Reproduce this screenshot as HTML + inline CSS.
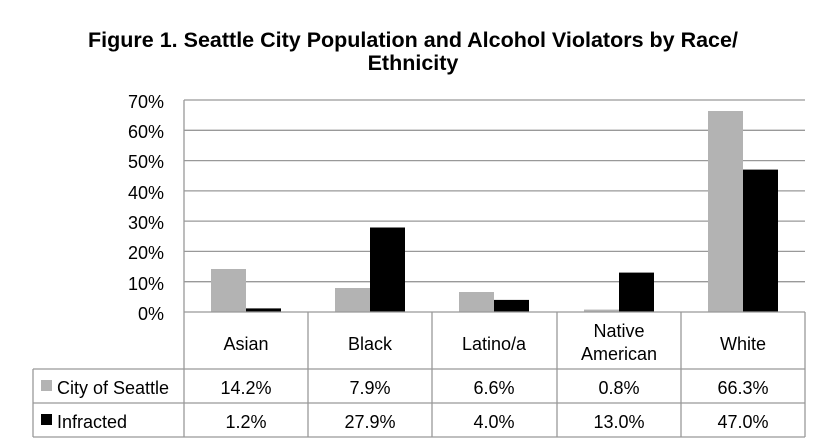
<!DOCTYPE html>
<html><head><meta charset="utf-8"><style>
body{margin:0;background:#fff;}
svg{display:block;font-family:"Liberation Sans",sans-serif;}
</style></head><body>
<svg width="824" height="442" viewBox="0 0 824 442" xmlns="http://www.w3.org/2000/svg">
<text x="413" y="47" text-anchor="middle" font-size="21.5" font-weight="bold">Figure 1. Seattle City Population and Alcohol Violators by Race/</text>
<text x="413" y="70" text-anchor="middle" font-size="21.5" font-weight="bold">Ethnicity</text>
<g stroke="#999" stroke-width="1.3">
<line x1="184" y1="100" x2="805" y2="100"/>
<line x1="184" y1="130.3" x2="805" y2="130.3"/>
<line x1="184" y1="160.6" x2="805" y2="160.6"/>
<line x1="184" y1="190.9" x2="805" y2="190.9"/>
<line x1="184" y1="221.1" x2="805" y2="221.1"/>
<line x1="184" y1="251.4" x2="805" y2="251.4"/>
<line x1="184" y1="281.7" x2="805" y2="281.7"/>
<line x1="184" y1="100" x2="184" y2="312"/>
</g>
<g font-size="18" text-anchor="end">
<text x="164" y="108">70%</text><text x="164" y="138">60%</text><text x="164" y="168">50%</text><text x="164" y="199">40%</text><text x="164" y="229">30%</text><text x="164" y="259">20%</text><text x="164" y="290">10%</text><text x="164" y="320">0%</text>
</g>
<g fill="#b3b3b3">
<rect x="211" y="269" width="35" height="43"/>
<rect x="335" y="288" width="35" height="24"/>
<rect x="459" y="292" width="35" height="20"/>
<rect x="584" y="309.6" width="35" height="2.4"/>
<rect x="708" y="111" width="35" height="201"/>
</g>
<g fill="#000">
<rect x="246" y="308.4" width="35" height="3.6"/>
<rect x="370" y="227.5" width="35" height="84.5"/>
<rect x="494" y="299.9" width="35" height="12.1"/>
<rect x="619" y="272.6" width="35" height="39.4"/>
<rect x="743" y="169.6" width="35" height="142.4"/>
</g>
<g stroke="#999" stroke-width="1.3" fill="none">
<line x1="184" y1="312" x2="805" y2="312"/>
<line x1="33" y1="369" x2="805" y2="369"/>
<line x1="33" y1="403" x2="805" y2="403"/>
<line x1="33" y1="437" x2="805" y2="437"/>
<line x1="33" y1="369" x2="33" y2="437"/>
<line x1="184" y1="312" x2="184" y2="437"/>
<line x1="308" y1="312" x2="308" y2="437"/>
<line x1="432" y1="312" x2="432" y2="437"/>
<line x1="557" y1="312" x2="557" y2="437"/>
<line x1="681" y1="312" x2="681" y2="437"/>
<line x1="805" y1="312" x2="805" y2="437"/>
</g>
<g font-size="18" text-anchor="middle">
<text x="246" y="350">Asian</text>
<text x="370" y="350">Black</text>
<text x="494" y="350">Latino/a</text>
<text x="619" y="337">Native</text><text x="619" y="360">American</text>
<text x="743" y="350">White</text>
<text x="246" y="394">14.2%</text><text x="370" y="394">7.9%</text><text x="494" y="394">6.6%</text><text x="619" y="394">0.8%</text><text x="743" y="394">66.3%</text>
<text x="246" y="428">1.2%</text><text x="370" y="428">27.9%</text><text x="494" y="428">4.0%</text><text x="619" y="428">13.0%</text><text x="743" y="428">47.0%</text>
</g>
<rect x="41" y="380" width="11" height="11" fill="#b3b3b3"/>
<rect x="41" y="414" width="11" height="11" fill="#000"/>
<g font-size="18">
<text x="57" y="394">City of Seattle</text>
<text x="57" y="428">Infracted</text>
</g>
</svg>
</body></html>
